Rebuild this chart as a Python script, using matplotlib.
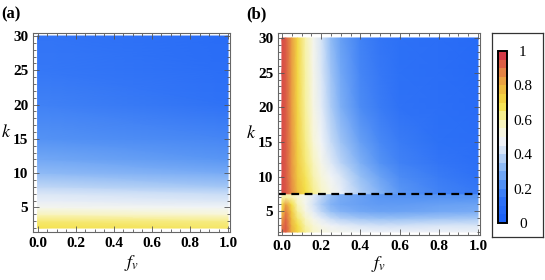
import numpy as np
import matplotlib
matplotlib.use("Agg")
import matplotlib.pyplot as plt
from matplotlib.colors import LinearSegmentedColormap, Normalize
from matplotlib.ticker import MultipleLocator
from matplotlib.cm import ScalarMappable

plt.rcParams['font.family'] = ['Liberation Serif', 'DejaVu Serif']
plt.rcParams['mathtext.fontset'] = 'stix'

# panel (a): value vs k, at f_v = 0 and f_v = 1
k_a = [2, 3, 4, 5, 6, 7, 8, 10, 12, 15, 20, 25, 30]
fv_a = [0.0, 1.0]
za_f0 = [0.69, 0.66, 0.58, 0.50, 0.46, 0.43, 0.39, 0.32, 0.27, 0.22, 0.17, 0.14, 0.13]
za_f1 = [0.67, 0.64, 0.55, 0.48, 0.43, 0.40, 0.35, 0.28, 0.23, 0.18, 0.12, 0.09, 0.08]

# panel (b): rows are k, columns are f_v
k_b = [2, 3, 4, 5, 6, 7, 7.45, 7.55, 8, 10, 12, 15, 20, 25, 30]
fv_b = [0, 0.02, 0.05, 0.08, 0.12, 0.16, 0.2, 0.25, 0.3, 0.4, 0.5, 0.6, 0.8, 1.0]
zb = [
    [.93, .95, .82, .72, .63, .57, .54, .51, .50, .48, .47, .47, .47, .47],
    [.90, .95, .80, .70, .60, .55, .50, .47, .45, .42, .41, .41, .42, .42],
    [.85, .93, .78, .66, .57, .50, .45, .40, .37, .34, .33, .33, .34, .35],
    [.75, .90, .75, .62, .52, .45, .39, .33, .30, .27, .26, .26, .27, .28],
    [.70, .85, .70, .58, .50, .42, .36, .30, .27, .25, .24, .24, .25, .26],
    [.60, .62, .60, .55, .50, .44, .38, .32, .28, .25, .23, .22, .22, .22],
    [.58, .60, .58, .54, .50, .44, .38, .32, .28, .25, .23, .22, .22, .22],
    [.97, .96, .88, .78, .70, .63, .57, .51, .46, .36, .29, .23, .17, .14],
    [.97, .96, .88, .78, .70, .63, .57, .51, .46, .36, .29, .23, .17, .14],
    [.97, .95, .87, .76, .68, .60, .54, .48, .43, .33, .26, .20, .15, .12],
    [.97, .95, .86, .75, .66, .58, .51, .44, .38, .29, .22, .17, .13, .10],
    [.97, .95, .86, .74, .64, .55, .48, .40, .34, .25, .19, .15, .11, .09],
    [.97, .95, .85, .73, .62, .52, .45, .36, .29, .20, .15, .12, .10, .08],
    [.97, .95, .85, .72, .61, .51, .43, .34, .27, .18, .14, .11, .09, .07],
    [.97, .95, .85, .72, .60, .50, .42, .32, .25, .17, .13, .11, .09, .07],
]
k_cut = 7.5
cbar_ticks = [0, 0.2, 0.4, 0.6, 0.8, 1]
cbar_labels = ["0", "0.2", "0.4", "0.6", "0.8", "1"]

cmap = LinearSegmentedColormap.from_list("temp", [
    (0.00, "#1d62f6"), (0.12, "#2f72f6"), (0.22, "#5593f4"),
    (0.32, "#91bcf5"), (0.42, "#d6e4f6"), (0.48, "#f2f4f7"),
    (0.55, "#f8f6d6"), (0.62, "#f7f19c"), (0.70, "#f4e046"),
    (0.78, "#efc040"), (0.87, "#e89443"), (1.00, "#d43a47")])
norm = Normalize(0, 1)

W, H = 545, 280
fig = plt.figure(figsize=(W / 100, H / 100), dpi=100)


def px(x0, y0, x1, y1):
    return [x0 / W, 1 - y1 / H, (x1 - x0) / W, (y1 - y0) / H]


def style(ax):
    ax.xaxis.set_major_locator(MultipleLocator(0.2))
    ax.xaxis.set_minor_locator(MultipleLocator(0.05))
    ax.yaxis.set_major_locator(MultipleLocator(5))
    ax.yaxis.set_minor_locator(MultipleLocator(1))
    ax.xaxis.set_major_formatter(lambda v, p: f"{v:.1f}")
    ax.yaxis.set_major_formatter(lambda v, p: f"{v:.0f}")
    ax.tick_params(which='both', direction='in', top=True, right=True,
                   color='#555555', width=0.6)
    ax.tick_params(which='major', length=4, labelsize=11, pad=3.5)
    ax.tick_params(which='minor', length=2)
    for t in ax.get_xticklabels() + ax.get_yticklabels():
        t.set_fontweight('bold')
    for s in ax.spines.values():
        s.set_color('#666666')
        s.set_linewidth(0.8)


# (a)
ax1 = fig.add_axes(px(33, 33, 230, 232))
ax1.pcolormesh(fv_a, k_a, np.array([za_f0, za_f1]).T, cmap=cmap, norm=norm,
               shading='gouraud')
ax1.set_xlim(-0.024, 1.01)
ax1.set_ylim(1.42, 30.44)
style(ax1)
ax1.set_xlabel("$f_v$", fontsize=13, labelpad=2)
ax1.set_ylabel("$k$", fontsize=13, rotation=0, labelpad=5, va='center')
fig.text(1 / W, 1 - 14 / H, "(a)", fontsize=12, fontweight='bold', va='center')

# (b)
ax2 = fig.add_axes(px(278, 33, 480, 235))
ax2.pcolormesh(fv_b, k_b, np.array(zb), cmap=cmap, norm=norm, shading='gouraud')
ax2.axhline(k_cut, color='black', lw=1.6, ls=(0, (3.5, 2.5)))
ax2.set_xlim(-0.02, 1.01)
ax2.set_ylim(1.57, 30.72)
style(ax2)
ax2.set_xlabel("$f_v$", fontsize=13, labelpad=1)
ax2.set_ylabel("$k$", fontsize=13, rotation=0, labelpad=5, va='center')
fig.text(246 / W, 1 - 14 / H, "(b)", fontsize=12, fontweight='bold', va='center')

# colorbar in a box
box = fig.add_axes(px(492, 33, 543, 237))
box.set_xticks([])
box.set_yticks([])
for s in box.spines.values():
    s.set_color('#333333')
    s.set_linewidth(0.9)
cax = fig.add_axes(px(498, 51, 507, 223))
cb = fig.colorbar(ScalarMappable(norm=norm, cmap=cmap.resampled(20)), cax=cax)
cb.outline.set_linewidth(1.4)
cb.set_ticks(cbar_ticks)
cb.set_ticklabels(cbar_labels)
cax.tick_params(length=0, labelsize=11, pad=11.5)
for t in cax.get_yticklabels():
    t.set_horizontalalignment('center')

fig.savefig("out.png", dpi=100)
